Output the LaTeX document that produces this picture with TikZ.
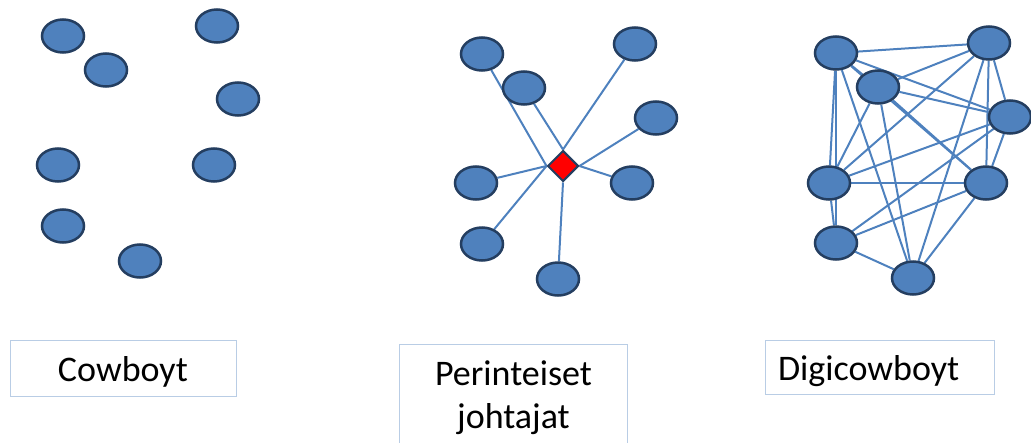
\documentclass[tikz,border=0pt]{standalone}
\usepackage{fontspec}
\setmainfont{Carlito}
\usetikzlibrary{shapes.geometric,backgrounds}
\definecolor{nodefill}{RGB}{79,129,189}
\definecolor{nodeline}{RGB}{36,62,96}
\definecolor{edgecol}{RGB}{78,129,190}
\definecolor{boxline}{RGB}{185,205,229}
\begin{document}
\begin{tikzpicture}[x=1pt,y=-1pt,
  dot/.style={ellipse,draw=nodeline,fill=nodefill,line width=2.5pt,minimum width=42pt,minimum height=33pt,inner sep=0pt},
  hub/.style={diamond,draw=nodeline,fill=red,line width=2pt,minimum size=31pt,inner sep=0pt},
  link/.style={draw=edgecol,line width=2pt},
  labelbox/.style={draw=boxline,line width=1pt,inner sep=0pt,font=\fontsize{36pt}{43pt}\selectfont}]
\useasboundingbox (0,0) rectangle (1031,442);
\clip (0,0) rectangle (1031,442);
% left cluster
\node[dot] (a1) at (63,36) {};
\node[dot] (a2) at (106,70) {};
\node[dot] (a3) at (217,26) {};
\node[dot] (a4) at (238,99) {};
\node[dot] (a5) at (58,165) {};
\node[dot] (a6) at (214,165) {};
\node[dot] (a7) at (63,226) {};
\node[dot] (a8) at (140,261) {};
% middle cluster
\node[hub] (d) at (563,166) {};
\node[dot] (b1) at (482,54) {};
\node[dot] (b2) at (524,88) {};
\node[dot] (b3) at (635,44) {};
\node[dot] (b4) at (656,118) {};
\node[dot] (b5) at (476,183) {};
\node[dot] (b6) at (632,183) {};
\node[dot] (b7) at (482,244) {};
\node[dot] (b8) at (558,279) {};
% right cluster
\node[dot] (c1) at (836,53) {};
\node[dot] (c2) at (878,87) {};
\node[dot] (c3) at (989,43) {};
\node[dot] (c4) at (1010,117) {};
\node[dot] (c5) at (829,183) {};
\node[dot] (c6) at (986,183) {};
\node[dot] (c7) at (836,243) {};
\node[dot] (c8) at (913,278) {};
\begin{pgfonlayer}{background}
\draw[link] (b1) -- (d.west);
\draw[link] (b5) -- (d.west);
\draw[link] (b7) -- (d.west);
\draw[link] (b2) -- (d.north);
\draw[link] (b3) -- (d.north);
\draw[link] (b4) -- (d.east);
\draw[link] (b6) -- (d.east);
\draw[link] (b8) -- (d.south);
\foreach \p/\q in {c1/c2,c1/c3,c1/c4,c1/c5,c1/c6,c1/c7,c1/c8,
  c2/c3,c2/c4,c2/c5,c2/c6,c2/c8,
  c3/c4,c3/c5,c3/c6,c3/c8,
  c4/c5,c4/c6,c4/c7,
  c5/c6,c5/c7,c6/c7,c6/c8,c7/c8}
  \draw[link] (\p) -- (\q);
\end{pgfonlayer}
% labels
\node[labelbox,minimum width=226pt,minimum height=56pt,text height=30pt,text depth=4pt] (lc) at (123,368) {Cowboyt};
\node[labelbox,draw=none,minimum width=227pt,minimum height=106pt,align=center] (lp) at (513.5,398) {Perinteiset\\johtajat};
\draw[boxline,line width=1pt] (lp.south west) -- (lp.north west) -- (lp.north east) -- (lp.south east);
\node[labelbox,minimum height=54pt,text width=203pt,inner xsep=13pt,align=left,text height=30pt,text depth=4pt] (ld) at (879.5,367) {Digicowboyt};
\end{tikzpicture}
\end{document}
